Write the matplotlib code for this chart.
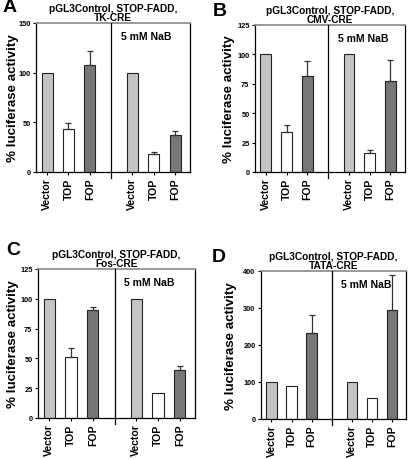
import matplotlib
matplotlib.use("Agg")
import matplotlib.pyplot as plt
import numpy as np

plt.rcParams['font.family'] = ['Liberation Sans', 'DejaVu Sans']
plt.rcParams['font.weight'] = 'bold'

categories = ["Vector", "TOP", "FOP"]
nab_label = "5 mM NaB"
panel_letters = ["A", "B", "C", "D"]
panel_titles = ["pGL3Control, STOP-FADD,\nTK-CRE",
                "pGL3Control, STOP-FADD,\nCMV-CRE",
                "pGL3Control, STOP-FADD,\nFos-CRE",
                "pGL3Control, STOP-FADD,\nTATA-CRE"]

A_ctrl = [100, 43, 108]; A_ctrl_err = [0, 6, 14]
A_nab = [100, 18, 37];   A_nab_err = [0, 2, 4]
B_ctrl = [100, 34, 82];  B_ctrl_err = [0, 6, 12]
B_nab = [100, 16, 77];   B_nab_err = [0, 3, 18]
C_ctrl = [100, 51, 91];  C_ctrl_err = [0, 8, 2]
C_nab = [100, 21, 40];   C_nab_err = [0, 0, 4]
D_ctrl = [100, 88, 232]; D_ctrl_err = [0, 0, 50]
D_nab = [100, 57, 294];  D_nab_err = [0, 0, 96]

yticks_A = [0, 50, 100, 150]
yticks_B = [0, 25, 50, 75, 100, 125]
yticks_C = [0, 25, 50, 75, 100, 125]
yticks_D = [0, 100, 200, 300, 400]

panels = [
    (A_ctrl, A_ctrl_err, A_nab, A_nab_err, yticks_A),
    (B_ctrl, B_ctrl_err, B_nab, B_nab_err, yticks_B),
    (C_ctrl, C_ctrl_err, C_nab, C_nab_err, yticks_C),
    (D_ctrl, D_ctrl_err, D_nab, D_nab_err, yticks_D),
]

bar_colors = ["#c4c4c4", "#ffffff", "#777777"]
W, H = 413, 460
boxes = [(36, 24, 190, 173), (255, 26, 405, 173), (38, 270, 195, 419), (261, 272, 406, 420)]
letter_pos = [(3, 8), (213, 11), (6, 251), (212, 258)]
ylabel_x = [19, 235, 19, 237]

fig = plt.figure(figsize=(W / 100, H / 100), dpi=100)

for i, (ctrl, ctrl_err, nab, nab_err, yt) in enumerate(panels):
    x0, y0, x1, y1 = boxes[i]
    ax = fig.add_axes([x0 / W, 1 - y1 / H, (x1 - x0) / W, (y1 - y0) / H])
    pos_ctrl = np.arange(3)
    pos_nab = np.arange(3) + 4
    for pos, vals, errs in ((pos_ctrl, ctrl, ctrl_err), (pos_nab, nab, nab_err)):
        ax.bar(pos, vals, width=0.52, color=bar_colors, edgecolor="#222222", linewidth=0.8, zorder=2)
        for p, v, e in zip(pos, vals, errs):
            if e > 0:
                ax.errorbar(p, v, yerr=[[0], [e]], fmt="none", ecolor="#333333",
                            elinewidth=0.9, capsize=2.5, capthick=0.9, zorder=3)
    ymax = yt[-1]
    ax.set_xlim(-0.52, 6.7)
    ax.set_ylim(0, ymax)
    ax.plot([3, 3], [-0.04 * ymax, ymax], color="black", linewidth=0.9, clip_on=False, zorder=4)
    ax.set_xticks(list(pos_ctrl) + list(pos_nab))
    ax.set_xticklabels(categories * 2, rotation=90, fontsize=7.6, fontweight="bold")
    ax.set_yticks(yt)
    ax.set_yticklabels([str(t) for t in yt], fontsize=5.3, fontweight="bold")
    ax.tick_params(axis="both", length=2.5, width=0.8, pad=1.5)
    ax.set_ylabel("% luciferase activity", fontsize=9.6, fontweight="bold")
    ax.yaxis.set_label_coords((ylabel_x[i] - x0) / (x1 - x0), 0.5)
    for s in ("left", "bottom", "right"):
        ax.spines[s].set_color("black")
        ax.spines[s].set_linewidth(0.9)
    ax.spines["top"].set_color("#888888")
    ax.spines["top"].set_linewidth(1.2)
    ax.text(0.55, 0.91, nab_label, transform=ax.transAxes, fontsize=7.5, fontweight="bold",
            ha="left", va="center")
    ax.set_title(panel_titles[i], fontsize=7.3, fontweight="bold", pad=2, linespacing=0.95)
    lx, ly = letter_pos[i]
    fig.text(lx / W, 1 - ly / H, panel_letters[i], fontsize=14,
             fontweight="bold", ha="left", va="center")

fig.savefig("out.png", dpi=100)
